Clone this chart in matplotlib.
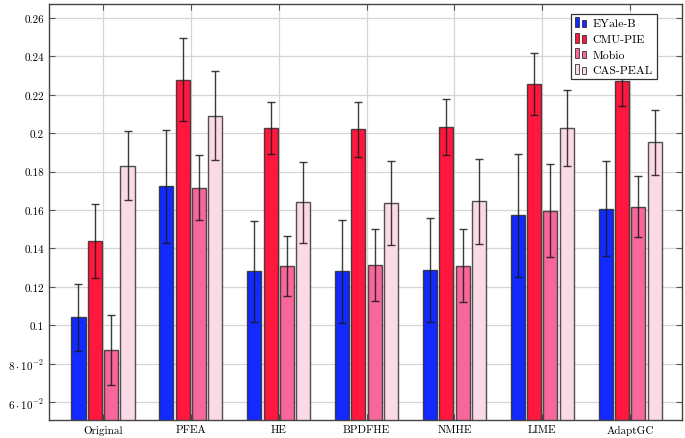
import numpy as np
import matplotlib
matplotlib.use("Agg")
import matplotlib.pyplot as plt
from matplotlib.patches import Rectangle
from matplotlib.legend_handler import HandlerBase

plt.rcParams['font.family'] = 'serif'
plt.rcParams['font.serif'] = ['cmr10', 'DejaVu Serif']
plt.rcParams['mathtext.fontset'] = 'cm'
plt.rcParams['axes.formatter.use_mathtext'] = True

# Data
methods = ['Original', 'PFEA', 'HE', 'BPDFHE', 'NMHE', 'LIME', 'AdaptGC']
datasets = ['EYale-B', 'CMU-PIE', 'Mobio', 'CAS-PEAL']

eyale = [0.1041, 0.1723, 0.1280, 0.1280, 0.1286, 0.1572, 0.1607]
eyale_err = [0.0175, 0.0295, 0.0265, 0.0270, 0.0270, 0.0322, 0.0247]
cmupie = [0.1439, 0.2279, 0.2027, 0.2020, 0.2031, 0.2256, 0.2272]
cmupie_err = [0.0192, 0.0215, 0.0137, 0.0145, 0.0146, 0.0163, 0.0132]
mobio = [0.0869, 0.1716, 0.1310, 0.1312, 0.1310, 0.1595, 0.1617]
mobio_err = [0.0182, 0.0170, 0.0157, 0.0188, 0.0190, 0.0242, 0.0160]
caspeal = [0.1831, 0.2091, 0.1640, 0.1636, 0.1645, 0.2029, 0.1953]
caspeal_err = [0.0179, 0.0233, 0.0211, 0.0217, 0.0220, 0.0198, 0.0170]

ytick_vals = [0.06, 0.08, 0.10, 0.12, 0.14, 0.16, 0.18, 0.20, 0.22, 0.24, 0.26]
ytick_labels = [r'$6\cdot10^{-2}$', r'$8\cdot10^{-2}$', '0.1', '0.12', '0.14',
                '0.16', '0.18', '0.2', '0.22', '0.24', '0.26']

series = [eyale, cmupie, mobio, caspeal]
errors = [eyale_err, cmupie_err, mobio_err, caspeal_err]
colors = ['#1229ff', '#ff173d', '#f7679b', '#fadae7']
edge = (0.15, 0.15, 0.15, 0.8)


# pgfplots-style legend marker: two small bars
class TwoBars(HandlerBase):
    def create_artists(self, legend, orig, xd, yd, w, h, fontsize, trans):
        c = orig.patches[0].get_facecolor()
        bw = w * 0.32
        r1 = Rectangle((xd, yd - h * 0.1), bw, h * 1.2, facecolor=c, edgecolor=edge,
                       linewidth=0.7, transform=trans)
        r2 = Rectangle((xd + w * 0.55, yd - h * 0.1), bw, h * 0.9, facecolor=c,
                       edgecolor=edge, linewidth=0.7, transform=trans)
        return [r1, r2]


# Plot
fig = plt.figure(figsize=(6.85, 4.39), dpi=100)
ax = fig.add_axes([0.0715, 0.0417, 0.924, 0.947])

x = np.arange(len(methods))
width = 0.16
step = 0.186
handles = []
for i, (vals, errs, c, lab) in enumerate(zip(series, errors, colors, datasets)):
    pos = x + (i - 1.5) * step
    b = ax.bar(pos, vals, width, color=c, edgecolor=edge,
               linewidth=1.0, label=lab, zorder=2)
    ax.errorbar(pos, vals, yerr=errs, fmt='none', ecolor=(0.1, 0.1, 0.1, 0.85),
                elinewidth=1.0, capsize=3, capthick=1.0, zorder=3)
    handles.append(b)

ax.set_xlim(-0.615, 6.59)
ax.set_ylim(0.0508, 0.2673)
ax.set_xticks(x)
ax.set_xticklabels(methods, fontsize=8)
ax.set_yticks(ytick_vals)
ax.set_yticklabels(ytick_labels, fontsize=8)
ax.grid(True, color='#d5d5d5', linewidth=0.9, zorder=0)
ax.set_axisbelow(True)
ax.tick_params(direction='in', top=True, right=True, length=4, width=0.8,
               color='#555555')
for s in ax.spines.values():
    s.set_color('#444444')
    s.set_linewidth(1.0)

leg = ax.legend(handles=handles, loc='upper right', fontsize=8.5, fancybox=False,
                edgecolor='#333333', framealpha=1, handlelength=1.1,
                handleheight=0.7, handletextpad=0.4, borderpad=0.35,
                labelspacing=0.45, bbox_to_anchor=(0.9695, 0.99),
                handler_map={type(handles[0]): TwoBars()})
leg.get_frame().set_linewidth(0.9)

plt.savefig('out.png', dpi=100)
